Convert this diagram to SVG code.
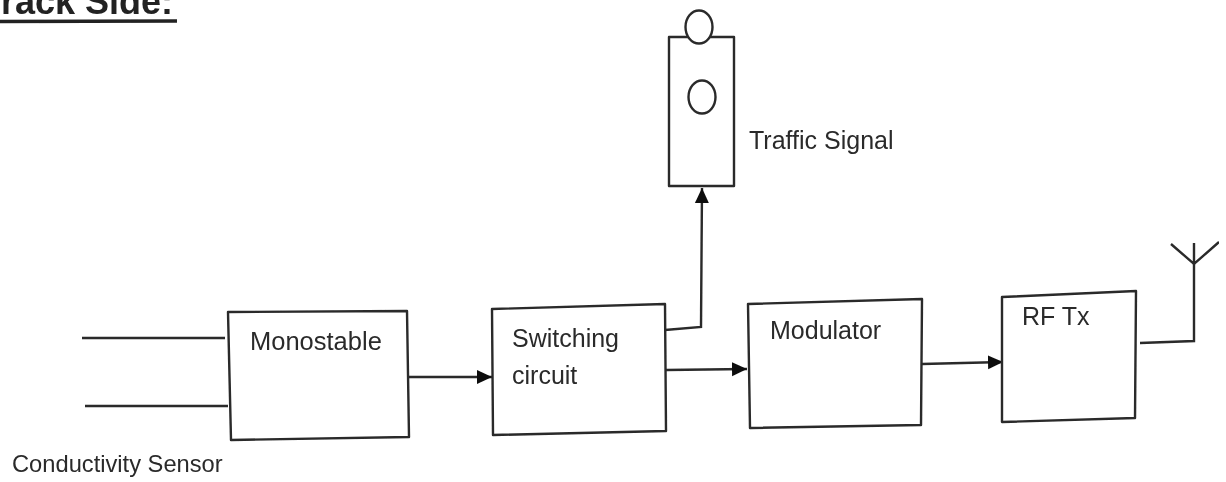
<svg xmlns="http://www.w3.org/2000/svg" width="1226" height="482" viewBox="0 0 1226 482">
<style>
text{font-family:"Liberation Sans",Arial,sans-serif;fill:#2a2a2a;font-size:25px}
.b{fill:#fff;stroke:#2a2a2a;stroke-width:2.400;stroke-linejoin:round}
.c{fill:none;stroke:#2a2a2a;stroke-width:2.400}
.s{font-size:23.700px}
</style>
<defs>
<marker id="a" markerUnits="userSpaceOnUse" markerWidth="16" markerHeight="16" refX="15" refY="8" orient="auto"><path d="M0 1L15 8L0 15Z" fill="#111"/></marker>
<filter id="f" x="0" y="0" width="1" height="1"><feGaussianBlur stdDeviation="0.6"/></filter>
</defs>
<rect width="1226" height="482" fill="#fff"/>
<g filter="url(#f)">
<text id="title" x="1" y="14" style="font-size:36px;font-weight:bold;fill:#222">rack Side:</text>
<path d="M0 21.500L177 21" fill="none" stroke="#222" stroke-width="3.500"/>
<g id="connectors">
<path class="c" d="M82 338L225 338"/>
<path class="c" d="M85 406L228 406"/>
<path class="c" d="M408 377L492 377" marker-end="url(#a)"/>
<path class="c" d="M665 330L701 327L702 188" marker-end="url(#a)"/>
<path class="c" d="M666 370L747 369" marker-end="url(#a)"/>
<path class="c" d="M922 364L1003 362" marker-end="url(#a)"/>
<path class="c" d="M1140 343L1194 341L1194 263"/>
<path class="c" d="M1171 244L1194 264L1219 242M1194 264L1194 243"/>
</g>
<g id="monostable"><path class="b" d="M228 312L407 311L409 437L231 440Z"/><text x="250" y="350" style="font-size:25.500px">Monostable</text></g>
<g id="switching"><path class="b" d="M492 309L665 304L666 431L493 435Z"/><text x="512" y="347">Switching</text><text x="512" y="384">circuit</text></g>
<g id="modulator"><path class="b" d="M748 304L922 299L921 425L750 428Z"/><text x="770" y="339">Modulator</text></g>
<g id="rftx"><path class="b" d="M1002 297L1136 291L1135 418L1002 422Z"/><text x="1022" y="325">RF Tx</text></g>
<g id="signal"><rect class="b" x="669" y="37" width="65" height="149"/><ellipse class="b" cx="699" cy="27" rx="13.500" ry="16.500"/><ellipse class="c" cx="702" cy="97" rx="13.500" ry="16.500"/><text x="749" y="149">Traffic Signal</text></g>
<g id="sensor"><text x="12" y="472" class="s">Conductivity Sensor</text></g>
</g>
</svg>
